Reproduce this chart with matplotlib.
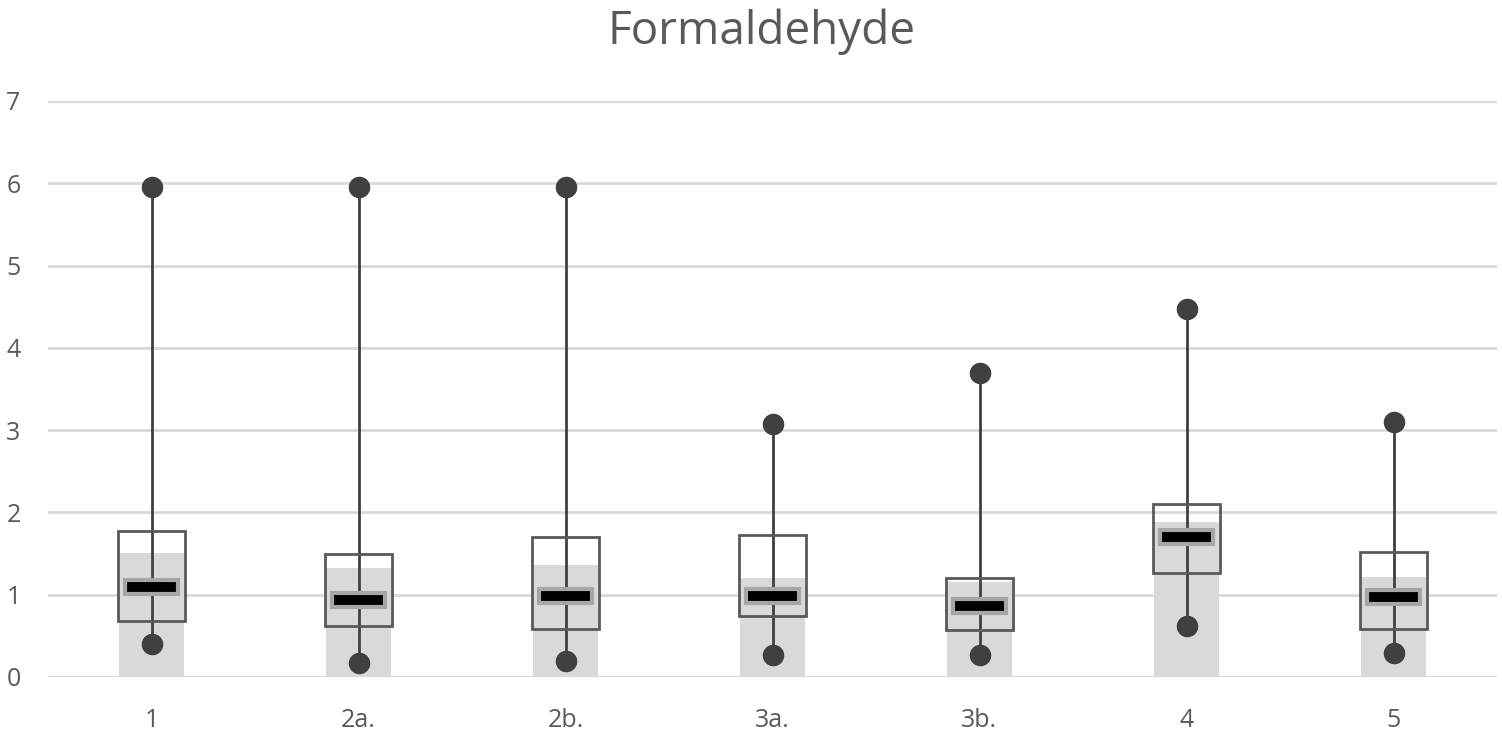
import matplotlib.pyplot as plt
import numpy as np

plt.rcParams['font.family'] = ['Open Sans', 'DejaVu Sans']

# data
categories = ["1", "2a.", "2b.", "3a.", "3b.", "4", "5"]
mean_vals = [1.51, 1.32, 1.36, 1.20, 1.15, 1.88, 1.21]
q1_vals = [0.68, 0.62, 0.58, 0.74, 0.57, 1.26, 0.58]
q3_vals = [1.77, 1.50, 1.70, 1.72, 1.20, 2.10, 1.52]
median_vals = [1.09, 0.94, 0.98, 0.98, 0.86, 1.70, 0.97]
min_vals = [0.40, 0.17, 0.19, 0.27, 0.27, 0.62, 0.29]
max_vals = [5.95, 5.95, 5.95, 3.07, 3.69, 4.47, 3.10]

TEXT = "#595959"
GRID = "#d9d9d9"

fig = plt.figure(figsize=(15.02, 7.41), dpi=100)
ax = fig.add_axes([48 / 1502, 64 / 741, 1449 / 1502, 576 / 741])

x = np.arange(len(categories))

# gray bars (mean)
ax.bar(x, mean_vals, width=0.31, color=GRID, zorder=2)

# whiskers
for xi, lo, hi in zip(x, min_vals, max_vals):
    ax.plot([xi, xi], [lo, hi], color="#404040", lw=2, zorder=3)
ax.plot(x, min_vals, 'o', color="#404040", ms=14.5, zorder=5)
ax.plot(x, max_vals, 'o', color="#404040", ms=14.5, zorder=5)

# boxes
ax.bar(x, np.array(q3_vals) - np.array(q1_vals), bottom=q1_vals, width=0.32,
       facecolor="none", edgecolor=TEXT, lw=2, zorder=4)

# median marker
mh = 0.17
ax.bar(x, [mh] * len(x), bottom=np.array(median_vals) - mh / 2, width=0.26,
       facecolor="black", edgecolor="#a6a6a6", lw=3, zorder=6)

ax.set_xlim(-0.5, len(categories) - 0.5)
ax.set_ylim(0, 7)
ax.set_yticks(range(8))
ax.set_xticks(x)
ax.set_xticklabels(categories)
ax.yaxis.grid(True, color=GRID, lw=2, zorder=0)
ax.set_axisbelow(True)
for s in ax.spines.values():
    s.set_visible(False)
ax.tick_params(axis='both', length=0, labelsize=18, colors=TEXT)
ax.tick_params(axis='y', pad=30)
ax.tick_params(axis='x', pad=22)
for lab in ax.get_yticklabels():
    lab.set_horizontalalignment('left')

fig.text(761 / 1502, 1 - 32 / 741, "Formaldehyde", ha='center', va='center',
         fontsize=33, color=TEXT)

fig.savefig("out.png", dpi=100)
